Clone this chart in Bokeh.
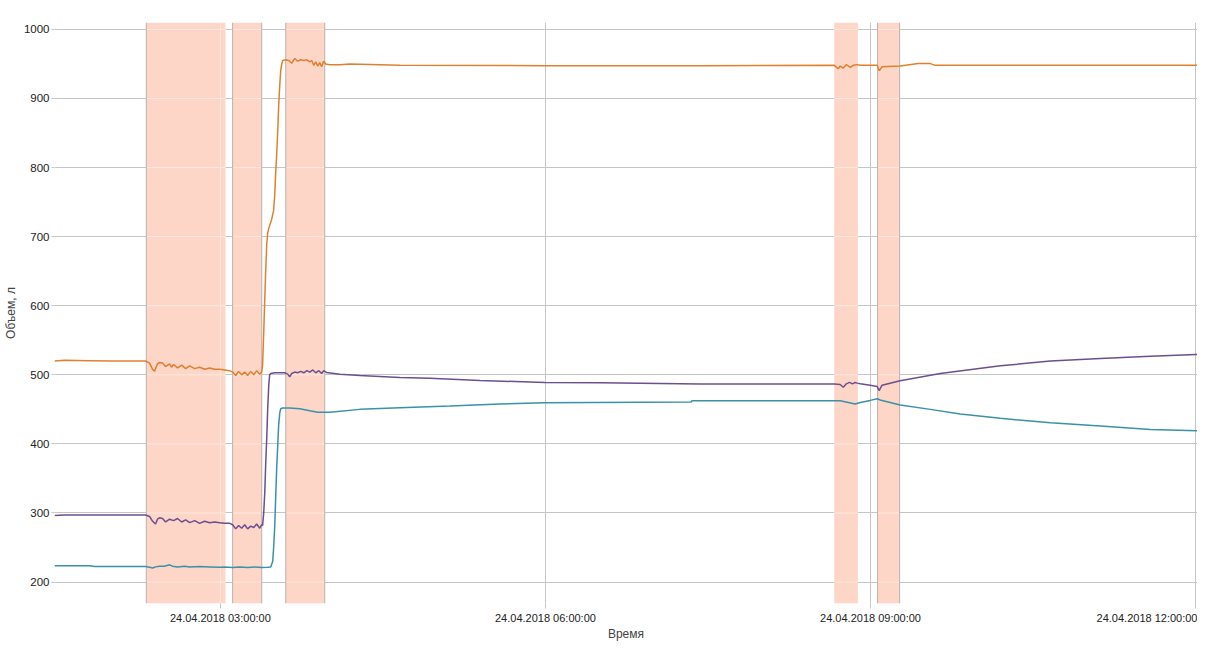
import pandas as pd
from bokeh.plotting import figure
from bokeh.models import Range1d, FixedTicker, DatetimeTickFormatter
from bokeh.embed import file_html
from bokeh.resources import INLINE

DAY = "2018-04-24 "

# ---------------- data ----------------
x_start = "01:28:10"
x_end = "12:01:02"
y_min = 169
y_max = 1010

x_tick_times = ["03:00:00", "06:00:00", "09:00:00", "12:00:00"]
y_ticks = [200, 300, 400, 500, 600, 700, 800, 900, 1000]

band_start = ["02:19:00", "03:06:48", "03:36:12", "08:39:54", "09:03:54"]
band_end = ["03:02:48", "03:22:54", "03:57:48", "08:53:00", "09:16:06"]
border_left = [True, True, True, False, True]
border_right = [False, True, True, False, True]

orange_t = ["01:28:10", "01:33:42", "01:47:36", "02:00:00", "02:18:36", "02:20:48", "02:22:30", "02:23:30",
            "02:25:12", "02:26:18", "02:28:00", "02:29:42", "02:31:54", "02:33:00", "02:34:06", "02:36:18",
            "02:38:36", "02:40:48", "02:43:00", "02:45:48", "02:48:30", "02:51:18", "02:54:06", "02:56:48",
            "02:59:36", "03:02:24", "03:05:12", "03:06:48", "03:08:30", "03:10:06", "03:11:48", "03:13:30",
            "03:15:06", "03:16:48", "03:18:30", "03:20:06", "03:21:48", "03:22:54", "03:23:24", "03:24:00",
            "03:24:36", "03:25:06", "03:25:42", "03:26:12", "03:26:48", "03:27:18", "03:28:24", "03:29:30",
            "03:30:06", "03:30:36", "03:31:12", "03:31:48", "03:32:18", "03:32:54", "03:33:24", "03:34:00",
            "03:34:30", "03:36:12", "03:37:54", "03:39:30", "03:41:12", "03:42:48", "03:44:30", "03:46:12",
            "03:47:54", "03:49:30", "03:50:36", "03:51:42", "03:52:48", "03:53:54", "03:55:00", "03:56:06",
            "03:57:12", "03:58:18", "04:00:36", "04:06:12", "04:11:42", "04:39:24", "06:00:00", "07:25:36",
            "08:39:54", "08:42:06", "08:43:12", "08:44:54", "08:46:36", "08:48:48", "08:50:24", "08:52:36",
            "08:54:18", "09:03:42", "09:04:48", "09:06:24", "09:16:24", "09:26:24", "09:33:06", "09:35:48",
            "10:00:00", "11:00:00", "12:05:30"]
orange_v = [520, 521, 520.5, 520, 520, 517, 508, 505,
            516, 518, 517, 512, 516, 511, 515, 510,
            514, 509, 513, 509, 511, 508, 510, 508,
            508, 507, 506, 504, 499, 505, 500, 504,
            499, 505, 500, 506, 501, 504, 515, 560,
            610, 650, 690, 705, 712, 716, 725, 738,
            760, 790, 820, 855, 890, 920, 940, 950,
            955, 956, 955, 951, 958, 954, 956, 955,
            956, 953, 955, 948, 953, 947, 952, 946,
            954, 950, 949, 949, 950, 948, 947.5, 947.5,
            948, 943, 947, 944, 949, 945, 948, 949,
            948, 948, 940, 946, 947, 950.5, 950.5, 948,
            948, 948, 948]

purple_t = ["01:28:10", "01:33:42", "02:18:36", "02:20:48", "02:22:30", "02:24:06", "02:25:12", "02:26:18",
            "02:28:00", "02:29:42", "02:31:54", "02:34:06", "02:36:18", "02:38:36", "02:40:48", "02:43:00",
            "02:45:48", "02:48:30", "02:51:18", "02:54:06", "02:56:48", "02:59:36", "03:02:24", "03:05:12",
            "03:06:48", "03:08:30", "03:10:06", "03:11:48", "03:13:30", "03:15:06", "03:16:48", "03:18:30",
            "03:20:06", "03:21:48", "03:22:54", "03:23:24", "03:24:00", "03:24:36", "03:25:06", "03:25:42",
            "03:26:12", "03:26:48", "03:27:18", "03:27:54", "03:30:06", "03:32:54", "03:35:36", "03:37:18",
            "03:38:24", "03:39:30", "03:41:12", "03:42:48", "03:44:30", "03:46:12", "03:47:54", "03:49:30",
            "03:51:12", "03:52:48", "03:54:30", "03:56:06", "03:57:12", "03:58:42", "04:06:12", "04:17:12",
            "04:39:24", "04:56:00", "05:23:42", "05:59:42", "06:30:12", "07:25:36", "08:39:54", "08:43:12",
            "08:44:54", "08:46:36", "08:48:18", "08:50:00", "08:51:30", "08:52:36", "08:54:18", "08:59:48",
            "09:03:42", "09:04:48", "09:05:18", "09:06:24", "09:16:24", "09:38:36", "10:11:54", "10:39:36",
            "11:07:18", "11:35:00", "12:00:00", "12:05:30"]
purple_v = [296.5, 297, 297, 295, 288, 284, 291, 293,
            292, 287, 291, 289, 292, 287, 290, 286,
            289, 285, 288, 286, 287, 286, 285, 285,
            283, 277, 282, 278, 283, 277, 281, 279,
            284, 278, 283, 282, 300, 330, 370, 410,
            450, 485, 500, 502, 503, 503, 503, 501,
            497, 502, 504, 503, 505, 503, 506, 504,
            507, 503, 506, 502, 506, 503.5, 501, 499,
            496, 495, 491.7, 489, 488.5, 486.6, 486.6, 486,
            482, 487, 489, 487, 489, 488, 487, 485,
            483, 477, 480, 485, 491.4, 502, 513, 520,
            523.8, 527, 529.5, 530]

teal_t = ["01:28:10", "01:47:36", "01:50:24", "02:18:36", "02:20:48", "02:22:30", "02:24:06", "02:26:18",
          "02:29:00", "02:31:54", "02:33:30", "02:36:18", "02:40:12", "02:43:00", "02:48:30", "02:54:06",
          "02:59:36", "03:02:24", "03:06:48", "03:10:42", "03:15:06", "03:19:00", "03:22:54", "03:26:12",
          "03:27:54", "03:29:00", "03:29:30", "03:30:06", "03:30:36", "03:31:12", "03:31:48", "03:32:18",
          "03:32:54", "03:33:24", "03:34:30", "03:38:24", "03:44:00", "03:49:30", "03:53:54", "03:57:48",
          "04:00:36", "04:17:12", "04:39:24", "05:07:06", "05:34:48", "05:59:42", "07:20:40", "07:21:12",
          "08:43:12", "08:47:42", "08:51:30", "08:54:18", "08:59:48", "09:03:42", "09:05:18", "09:16:24",
          "09:33:06", "09:49:42", "10:11:54", "10:39:36", "11:07:18", "11:35:00", "12:05:30"]
teal_v = [223.8, 223.5, 222.5, 222.5, 221.5, 220.5, 222, 223,
          223, 225, 223, 222, 223, 222, 222.5, 222,
          221.5, 222, 221, 222, 221, 222, 221, 221.5,
          222, 230, 250, 280, 320, 365, 400, 428,
          445, 451, 452, 452, 451, 448, 446, 446,
          446, 450, 452.4, 454.8, 457.7, 459.6, 460.6, 462.5,
          462.5, 460, 457.8, 460, 463, 465.4, 463.6, 456.4,
          450, 443.3, 437, 430.7, 426, 421, 418.8]

# ---------------- styles ----------------
C_ORANGE = "#e0802f"
C_PURPLE = "#6c4f8f"
C_TEAL = "#3b91a8"
C_BAND = "#fdd6c8"
C_BAND_GRID = "#fde8e0"
C_BORDER = "#bcb2ac"
C_GRID = "#c6c6c6"
FONT = "Liberation Sans"


def ts(lst):
    return list(pd.to_datetime([DAY + s for s in lst]))


assert len(orange_t) == len(orange_v)
assert len(purple_t) == len(purple_v)
assert len(teal_t) == len(teal_v)

xs = ts([x_start])[0]
xe = ts([x_end])[0]
x_ticks = ts(x_tick_times)
x_tick_ms = [t.value / 1e6 for t in x_ticks]

p = figure(width=1197, height=643, x_axis_type="datetime",
           x_range=Range1d(xs, xe), y_range=Range1d(y_min, y_max),
           output_backend="svg", toolbar_location=None,
           min_border_left=47, min_border_right=0, min_border_top=22, min_border_bottom=39)
p.outline_line_color = None
p.background_fill_color = "white"

# bands
bs = ts(band_start)
be = ts(band_end)
p.quad(left=bs, right=be, bottom=y_min, top=y_max, fill_color=C_BAND, line_color=None)

# light grid inside bands
gx0, gx1, gy = [], [], []
for a, b in zip(bs, be):
    for yv in y_ticks:
        gx0.append(a); gx1.append(b); gy.append(yv)
p.segment(x0=gx0, y0=gy, x1=gx1, y1=gy, line_color=C_BAND_GRID, line_width=1)
vx = []
for t in x_ticks:
    for a, b in zip(bs, be):
        if a < t < b:
            vx.append(t)
if vx:
    p.segment(x0=vx, y0=[y_min] * len(vx), x1=vx, y1=[y_max] * len(vx), line_color=C_BAND_GRID, line_width=1)

# band borders
bx = [a for a, f in zip(bs, border_left) if f] + [b for b, f in zip(be, border_right) if f]
p.segment(x0=bx, y0=[y_min] * len(bx), x1=bx, y1=[y_max] * len(bx), line_color=C_BORDER, line_width=1)

# series
p.line(ts(orange_t), orange_v, line_color=C_ORANGE, line_width=1.5)
p.line(ts(purple_t), purple_v, line_color=C_PURPLE, line_width=1.5)
p.line(ts(teal_t), teal_v, line_color=C_TEAL, line_width=1.5)

# axes / grid
xt = FixedTicker(ticks=x_tick_ms)
yt = FixedTicker(ticks=y_ticks)
p.xaxis.ticker = xt
p.yaxis.ticker = yt
p.xgrid.ticker = xt
p.ygrid.ticker = yt
p.xgrid.grid_line_color = C_GRID
p.ygrid.grid_line_color = C_GRID

fmt = "%d.%m.%Y %H:%M:%S"
p.xaxis.formatter = DatetimeTickFormatter(seconds=fmt, minsec=fmt, minutes=fmt, hourmin=fmt,
                                          hours=fmt, days=fmt, months=fmt, years=fmt)

for ax in (p.xaxis[0], p.yaxis[0]):
    ax.axis_line_color = None
    ax.major_tick_line_color = C_GRID
    ax.minor_tick_line_color = None
    ax.major_tick_in = 0
    ax.major_label_text_font = FONT
    ax.major_label_text_color = "#222222"
    ax.axis_label_text_font = FONT
    ax.axis_label_text_font_style = "normal"
    ax.axis_label_text_color = "#444444"
    ax.axis_label_text_font_size = "12px"

p.xaxis.major_tick_out = 5
p.yaxis.major_tick_out = 3
p.xaxis.major_label_text_font_size = "11px"
p.yaxis.major_label_text_font_size = "11.5px"
p.xaxis.major_label_standoff = 3
p.yaxis.major_label_standoff = 2
p.xaxis.axis_label = "Время"
p.yaxis.axis_label = "Объем, л"
p.xaxis.axis_label_standoff = 0
p.yaxis.axis_label_standoff = 3

html = file_html(p, INLINE)
open("out.html", "w").write(html)
